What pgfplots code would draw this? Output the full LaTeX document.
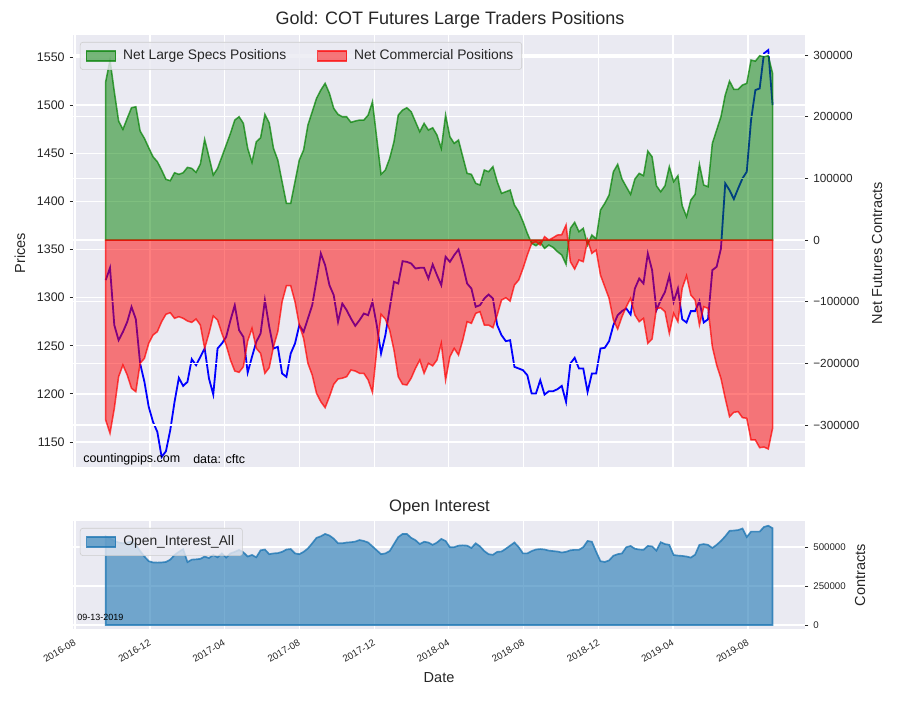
\documentclass[border=0pt]{standalone}
\usepackage{fontspec}
\setmainfont{Liberation Sans}
\usepackage{pgfplots}
\usepackage{pgfplotstable}
\pgfplotsset{compat=1.18}
\definecolor{bgcol}{HTML}{EAEAF2}
\definecolor{txt}{HTML}{262626}
\definecolor{oic}{HTML}{1F77B4}
\definecolor{lgray}{HTML}{CCCCCC}
\definecolor{cgreen}{HTML}{008000}

\pgfplotstableread{
w S C P
0 256600 -291800 1318.2
1 291800 -313400 1331.0
2 240400 -272900 1271.4
3 192900 -221600 1255.8
4 179400 -202600 1264.4
5 197300 -218800 1274.8
6 214500 -240400 1290.4
7 216100 -245800 1277.7
8 176700 -199900 1231.6
9 164800 -191800 1212.5
10 149600 -167500 1186.5
11 135000 -154000 1170.9
12 127000 -148600 1160.5
13 113500 -132400 1134.5
14 98400 -120400 1140.4
15 96200 -117800 1162.3
16 109100 -126900 1191.7
17 106500 -124300 1216.6
18 109100 -126900 1208.3
19 117800 -131300 1212.5
20 116200 -133500 1236.1
21 109700 -128100 1229.8
22 123200 -137800 1238.5
23 163200 -175600 1247.2
24 135000 -151300 1216.0
25 105400 -123200 1199.4
26 116200 -129700 1247.2
27 135000 -151300 1252.4
28 154000 -170200 1259.2
29 173000 -194500 1276.6
30 194500 -212400 1292.2
31 199900 -214500 1266.2
32 189200 -205400 1259.2
33 148600 -163700 1222.2
34 126000 -143200 1238.5
35 159300 -175600 1254.1
36 165800 -183700 1262.8
37 203700 -216100 1297.4
38 190000 -207000 1270.0
39 148600 -172900 1247.2
40 129700 -148600 1248.9
41 94500 -100000 1221.2
42 59500 -74100 1217.7
43 59500 -74100 1242.0
44 94500 -100000 1252.4
45 129700 -137800 1271.4
46 145900 -159300 1264.5
47 186400 -199900 1278.3
48 208000 -218800 1292.2
49 229700 -248500 1318.2
50 243200 -262100 1345.9
51 254000 -271800 1333.8
52 237800 -254000 1313.0
53 213500 -233900 1302.6
54 203700 -225300 1274.9
55 199900 -224000 1293.9
56 199900 -221600 1287.0
57 190800 -210700 1278.3
58 192900 -212400 1270.7
59 194500 -216100 1276.6
60 194500 -216100 1283.5
61 202600 -226900 1281.8
62 224200 -246900 1295.7
63 164800 -178300 1271.4
64 106500 -120400 1242.0
65 113500 -128100 1261.0
66 132400 -145900 1288.7
67 159300 -178300 1316.5
68 202600 -221600 1314.7
69 210700 -233900 1337.9
70 214500 -235000 1337.2
71 208000 -224000 1335.5
72 191800 -208000 1330.3
73 175600 -194500 1331.0
74 189200 -216100 1331.0
75 178300 -199900 1319.9
76 182000 -204000 1334.5
77 170200 -194500 1323.4
78 148600 -167500 1313.0
79 202600 -226900 1342.5
80 167500 -189200 1337.2
81 156700 -175600 1344.2
82 162100 -186400 1350.1
83 135000 -162100 1333.8
84 108100 -132400 1314.7
85 106500 -135000 1309.5
86 91900 -118900 1290.5
87 89200 -116200 1292.2
88 113500 -137800 1299.1
89 110800 -137800 1303.3
90 118900 -142100 1299.1
91 94500 -121600 1271.4
92 75700 -97300 1261.0
93 78300 -93500 1254.8
94 81000 -99000 1255.8
95 56700 -72900 1228.1
96 45900 -64800 1226.4
97 29700 -45900 1224.6
98 10800 -24300 1219.4
99 -5400 -5400 1200.4
100 -9200 -2700 1200.4
101 -3800 -8100 1214.2
102 -13500 5400 1199.3
103 -8100 0 1202.8
104 -12000 3800 1202.8
105 -18900 8100 1204.9
106 -24300 8600 1208.3
107 -39400 24300 1191.7
108 19000 -35100 1231.6
109 28700 -47000 1237.5
110 13500 -32400 1226.4
111 19000 -35100 1226.4
112 -8100 0 1202.1
113 8100 -21600 1221.2
114 1600 -16200 1221.2
115 48600 -56700 1247.2
116 59500 -75700 1247.9
117 72900 -94500 1254.8
118 110700 -129700 1271.4
119 122700 -144300 1281.8
120 98900 -124300 1286.0
121 86400 -108100 1288.7
122 74100 -94500 1282.5
123 98900 -121600 1309.5
124 108100 -132400 1319.9
125 104300 -127000 1314.7
126 144300 -167500 1345.9
127 135000 -160500 1328.6
128 88000 -110800 1287.0
129 78300 -110000 1297.4
130 88000 -116200 1306.1
131 118900 -151300 1322.7
132 94500 -118900 1295.7
133 104300 -132400 1309.5
134 55600 -78300 1277.6
135 37800 -57800 1274.2
136 64800 -89200 1286.0
137 74100 -97300 1286.0
138 122700 -137800 1296.4
139 89200 -108100 1274.2
140 86400 -110800 1277.6
141 156700 -172900 1328.6
142 178300 -202600 1332.1
143 199900 -224200 1351.1
144 235000 -256600 1418.7
145 257700 -286400 1411.7
146 244300 -279300 1402.4
147 244300 -278200 1413.5
148 251300 -288000 1423.9
149 254000 -289000 1430.8
150 291800 -324200 1484.5
151 290000 -324200 1515.7
152 298800 -336700 1517.4
153 297000 -335600 1553.8
154 298800 -338800 1557.3
155 270200 -305300 1500.1
}\cot

\pgfplotstableread{
w O
0 570000
1 555000
2 540000
3 530000
4 525000
5 530000
6 535000
7 515000
8 475000
9 440000
10 410000
11 402000
12 401000
13 402000
14 405000
15 420000
16 450000
17 470000
18 487000
19 404000
20 420000
21 422000
22 425000
23 440000
24 430000
25 450000
26 435000
27 460000
28 433000
29 460000
30 470000
31 482000
32 467000
33 440000
34 450000
35 435000
36 480000
37 485000
38 455000
39 460000
40 462000
41 470000
42 485000
43 488000
44 460000
45 455000
46 470000
47 492000
48 525000
49 560000
50 570000
51 585000
52 575000
53 555000
54 525000
55 525000
56 530000
57 532000
58 536000
59 546000
60 540000
61 530000
62 505000
63 480000
64 455000
65 460000
66 475000
67 520000
68 565000
69 585000
70 585000
71 560000
72 545000
73 520000
74 535000
75 530000
76 515000
77 530000
78 553000
79 540000
80 500000
81 500000
82 510000
83 512000
84 510000
85 495000
86 525000
87 505000
88 475000
89 455000
90 451000
91 470000
92 472000
93 490000
94 510000
95 530000
96 500000
97 460000
98 460000
99 475000
100 485000
101 488000
102 485000
103 478000
104 475000
105 472000
106 466000
107 470000
108 480000
109 483000
110 483000
111 500000
112 540000
113 535000
114 470000
115 410000
116 405000
117 415000
118 445000
119 455000
120 460000
121 500000
122 508000
123 490000
124 485000
125 483000
126 508000
127 505000
128 478000
129 532000
130 520000
131 515000
132 450000
133 446000
134 444000
135 440000
136 433000
137 452000
138 515000
139 520000
140 515000
141 495000
142 515000
143 540000
144 570000
145 605000
146 607000
147 610000
148 620000
149 565000
150 600000
151 600000
152 600000
153 630000
154 638000
155 622000
}\oi

\begin{document}
\begin{tikzpicture}
\path[use as bounding box] (0,0) rectangle (650.4pt,505.9pt);
\pgfplotsset{
  base/.style={
    scale only axis, width=529pt, anchor=south west,
    xmin=-53.2, xmax=1137.8,
    axis line style={draw=none},
    scaled y ticks=false, scaled x ticks=false,
    tick align=outside, major tick length=2.5pt,
    tick style={color=txt, line width=0.6pt},
    grid style={white, line width=1pt},
    xtick={-50,72,193,315,437,558,680,802,923,1045},
    legend image code/.code={\draw[sharp corners,##1] (0pt,-3.6pt) rectangle (21pt,3.6pt);},
    legend style={at={(0,1)}, anchor=north west, xshift=5pt, yshift=-5pt,
      fill=bgcol, fill opacity=0.8, draw=lgray, draw opacity=1, text opacity=1,
      rounded corners=2pt, text=txt, font=\fontsize{10}{12}\selectfont,
      inner xsep=4pt, inner ysep=3.5pt,
      /tikz/every odd column/.append style={column sep=3pt}},
    legend cell align=left,
  },
}
% ---------- top: prices ----------
\begin{axis}[base, at={(52.76pt,168.38pt)}, height=312.2pt,
  ymin=1124, ymax=1572.9,
  axis background/.style={fill=bgcol},
  xmajorgrids, ymajorgrids,
  xticklabels={}, xtick style={draw=none},
  ytick={1150,1200,1250,1300,1350,1400,1450,1500,1550},
  yticklabels={1150,1200,1250,1300,1350,1400,1450,1500,1550},
  ytick pos=left,
  yticklabel style={font=\fontsize{9}{10}\selectfont, text=txt}]
\addplot[blue, line width=1.3pt] table[x expr=7*\thisrow{w}, y=P]{\cot};
\end{axis}
% ---------- top: net positions ----------
\begin{axis}[base, at={(52.76pt,168.38pt)}, height=312.2pt,
  ymin=-368100, ymax=332400,
  hide x axis, ymajorgrids,
  ytick={-300000,-200000,-100000,0,100000,200000,300000},
  yticklabels={−300000,−200000,−100000,0,100000,200000,300000},
  ytick pos=right, yticklabel pos=right,
  yticklabel style={font=\fontsize{8.5}{10}\selectfont, text=txt},
  legend columns=2,
  legend style={/tikz/every even column/.append style={column sep=20pt}}]
\addplot[draw=cgreen, draw opacity=0.7, fill=cgreen, fill opacity=0.5, line width=1.1pt]
  table[x expr=7*\thisrow{w}, y=S]{\cot} \closedcycle;
\addlegendentry{Net Large Specs Positions}
\addplot[draw=red, draw opacity=0.7, fill=red, fill opacity=0.5, line width=1.1pt]
  table[x expr=7*\thisrow{w}, y=C]{\cot} \closedcycle;
\addlegendentry{Net Commercial Positions}
\end{axis}
% ---------- bottom: open interest ----------
\begin{axis}[base, at={(52.76pt,51.31pt)}, height=78.05pt,
  ymin=-26000, ymax=668000,
  axis background/.style={fill=bgcol},
  xmajorgrids, ymajorgrids,
  xticklabels={2016-08,2016-12,2017-04,2017-08,2017-12,2018-04,2018-08,2018-12,2019-04,2019-08},
  xticklabel style={rotate=30, anchor=north east, font=\fontsize{7}{8}\selectfont, text=txt},
  xtick style={draw=none},
  ytick={0,250000,500000}, yticklabels={0,250000,500000},
  ytick pos=right, yticklabel pos=right,
  yticklabel style={font=\fontsize{7}{8}\selectfont, text=txt}]
\addplot[draw=oic, draw opacity=0.8, fill=oic, fill opacity=0.6, line width=1.2pt]
  table[x expr=7*\thisrow{w}, y=O]{\oi} \closedcycle;
\addlegendentry{Open\_Interest\_All}
\end{axis}
% ---------- texts ----------
\node[font=\fontsize{13}{15}\selectfont, text=txt] at (325.2pt,491.4pt) {Gold: COT Futures Large Traders Positions};
\node[font=\fontsize{12}{14}\selectfont, text=txt] at (317.6pt,139.5pt) {Open Interest};
\node[rotate=90, font=\fontsize{10.5}{12}\selectfont, text=txt] at (14.45pt,323pt) {Prices};
\node[rotate=90, font=\fontsize{10.5}{12}\selectfont, text=txt] at (633.8pt,323pt) {Net Futures Contracts};
\node[rotate=90, font=\fontsize{10.5}{12}\selectfont, text=txt] at (621.5pt,90.3pt) {Contracts};
\node[font=\fontsize{10.5}{12}\selectfont, text=txt] at (317.3pt,16.6pt) {Date};
\node[anchor=west, inner sep=0pt, font=\fontsize{9}{10}\selectfont, text=black] at (60pt,174.2pt) {countingpips.com};
\node[anchor=west, inner sep=0pt, font=\fontsize{9}{10}\selectfont, text=black] at (139.5pt,174.2pt) {data: cftc};
\node[anchor=west, inner sep=0pt, font=\fontsize{6.5}{7}\selectfont, text=black] at (55.65pt,60pt) {09-13-2019};
\end{tikzpicture}
\end{document}
